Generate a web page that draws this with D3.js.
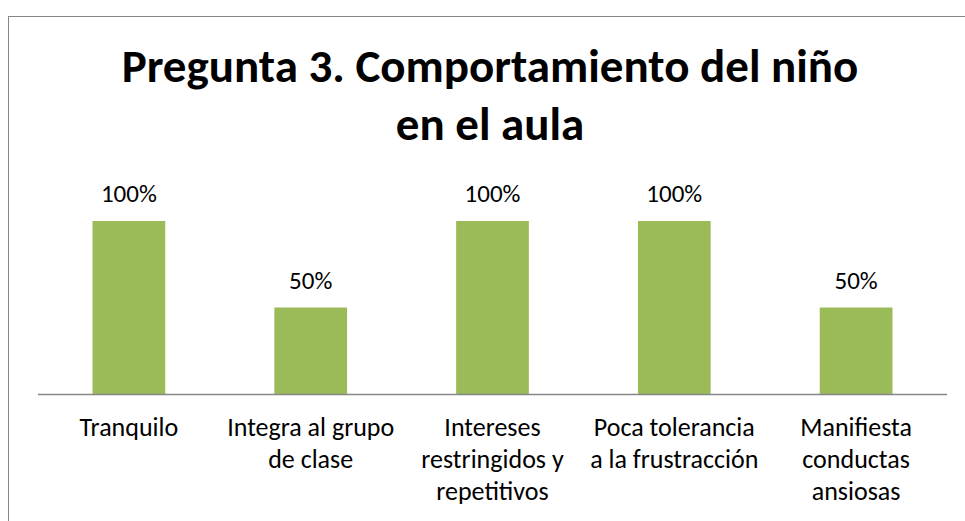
<!DOCTYPE html>
<html>
<head>
<meta charset="utf-8">
<script src="https://cdn.jsdelivr.net/npm/d3@7"></script>
<style>
  html, body { margin: 0; padding: 0; background: #fff; }
  svg { display: block; font-family: Carlito, Calibri, Lato, sans-serif; }
</style>
</head>
<body>
<svg id="chart" width="965" height="521"></svg>
<script>
const titleLines = ["Pregunta 3. Comportamiento del niño", "en el aula"];
const categories = [
  "Tranquilo",
  "Integra al grupo\nde clase",
  "Intereses\nrestringidos y\nrepetitivos",
  "Poca tolerancia\na la frustracción",
  "Manifiesta\nconductas\nansiosas"
];
const values = [1.0, 0.5, 1.0, 1.0, 0.5];

const W = 965, H = 521;
const C = { bar: "#9bbb59", axis: "#868686", border: "#868686", text: "#000" };
const plot = { left: 38, right: 947, top: 221, bottom: 394 };

const svg = d3.select("#chart");

// chart area border (runs off the right and bottom edge like the screenshot)
svg.append("rect")
  .attr("x", 8.5).attr("y", 16.5)
  .attr("width", W + 20).attr("height", H + 20)
  .attr("fill", "none").attr("stroke", C.border).attr("stroke-width", 1);

const x = d3.scaleBand().domain(categories).range([plot.left, plot.right]).paddingInner(0.6).paddingOuter(0.3);
const y = d3.scaleLinear().domain([0, 1]).range([plot.bottom, plot.top]);

svg.append("g").selectAll("text").data(titleLines).enter().append("text")
  .attr("x", 490).attr("y", (d, i) => 82 + i * 58)
  .attr("text-anchor", "middle")
  .attr("font-size", "47px").attr("font-weight", "700")
  .attr("fill", C.text)
  .text(d => d);

svg.append("g").selectAll("rect").data(values).enter().append("rect")
  .attr("x", (d, i) => x(categories[i]))
  .attr("y", d => y(d))
  .attr("width", x.bandwidth())
  .attr("height", d => y(0) - y(d))
  .attr("fill", C.bar);

svg.append("g").selectAll("text").data(values).enter().append("text")
  .attr("x", (d, i) => x(categories[i]) + x.bandwidth() / 2)
  .attr("y", d => y(d) - 19)
  .attr("text-anchor", "middle")
  .attr("font-size", "25px")
  .attr("fill", C.text)
  .text(d3.format(".0%"));

const axis = svg.append("g").attr("transform", `translate(0,${plot.bottom})`)
  .call(d3.axisBottom(x).tickSize(0).tickPadding(0).tickFormat(""));
axis.select(".domain").attr("stroke", C.axis).attr("stroke-width", 1.5)
  .attr("d", `M${plot.left},0.5H${plot.right}`);

const lab = svg.append("g").selectAll("text").data(categories).enter().append("text")
  .attr("x", d => x(d) + x.bandwidth() / 2)
  .attr("y", 436)
  .attr("text-anchor", "middle")
  .attr("font-size", "26px")
  .attr("fill", C.text);
lab.selectAll("tspan").data(d => d.split("\n").map(t => [d, t])).enter().append("tspan")
  .attr("x", d => x(d[0]) + x.bandwidth() / 2)
  .attr("dy", (d, i) => i ? 32 : 0)
  .text(d => d[1]);
</script>
</body>
</html>
